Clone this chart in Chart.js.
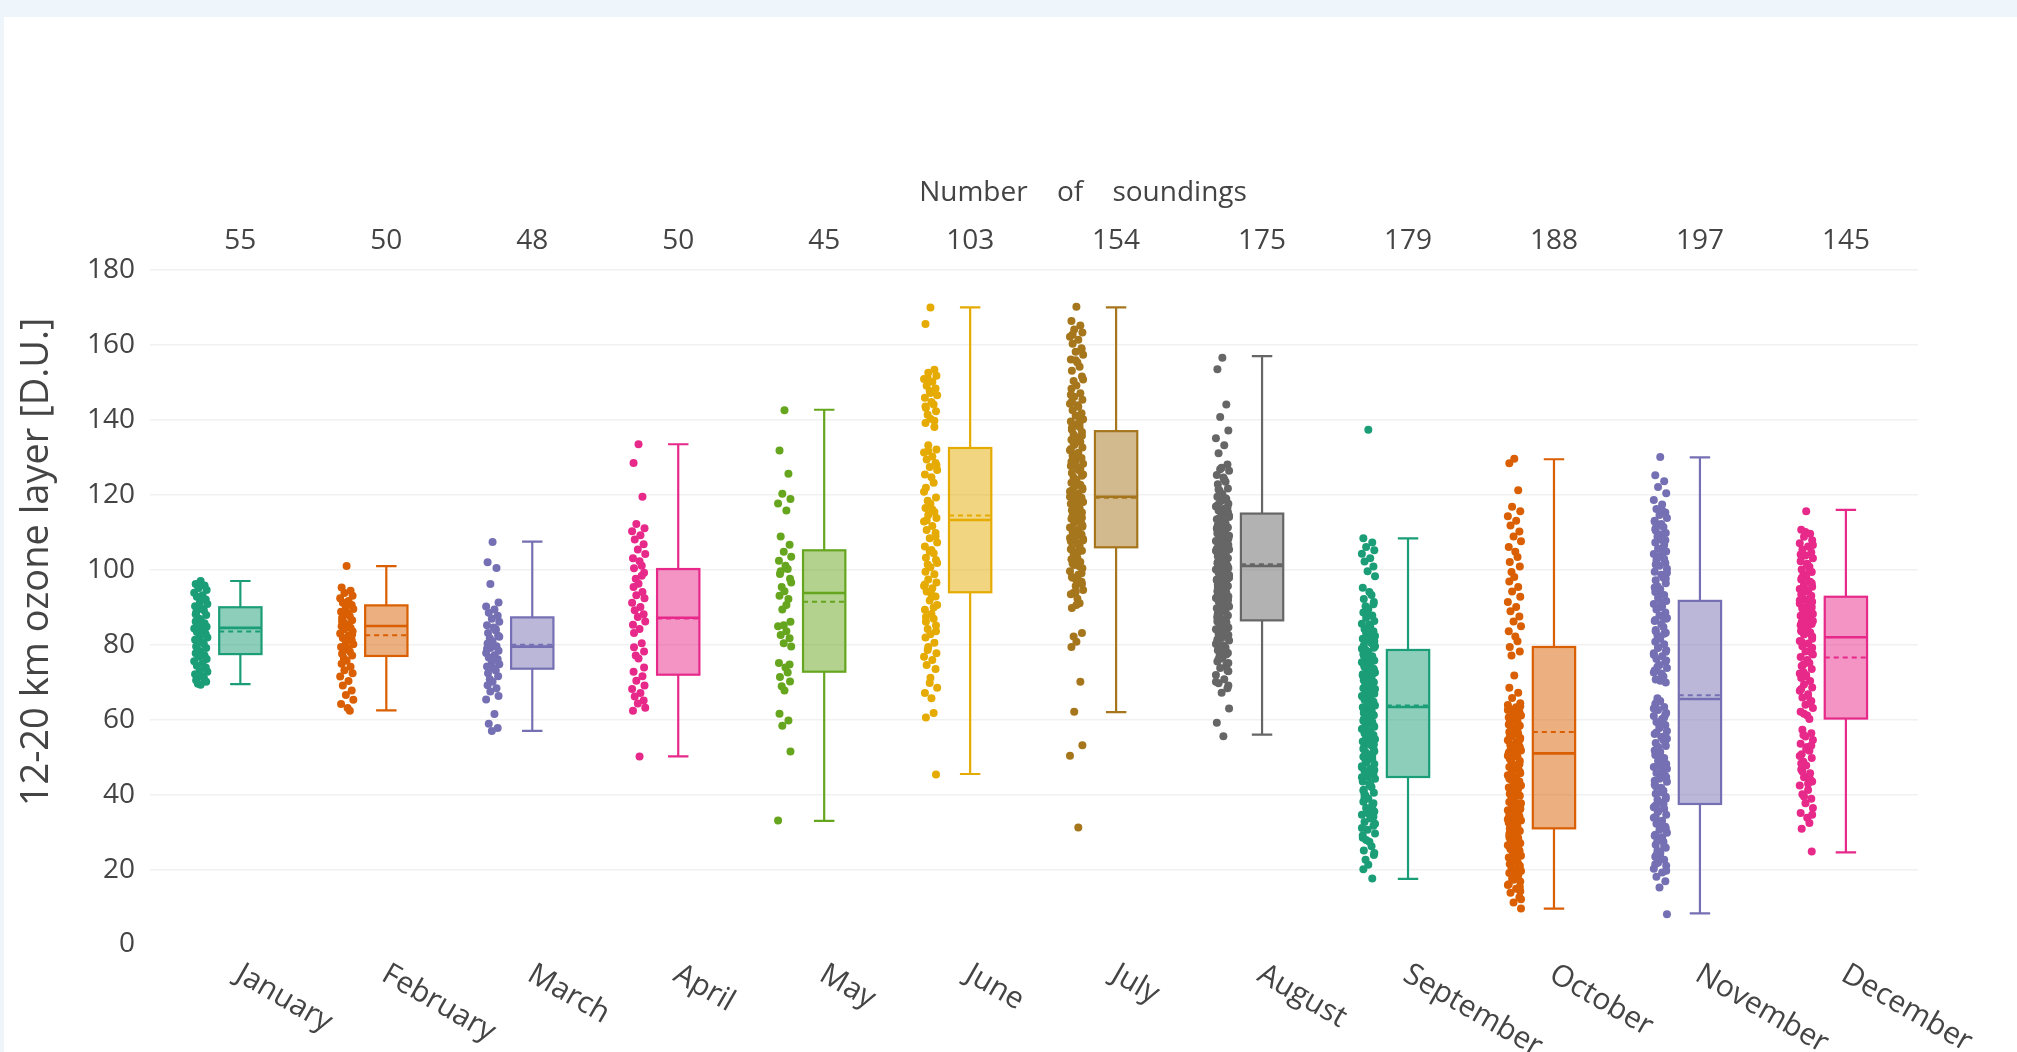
<!DOCTYPE html>
<html>
<head>
<meta charset="utf-8">
<title>12-20 km ozone layer by month</title>
<script src="https://cdn.jsdelivr.net/npm/chart.js@4.4.1/dist/chart.umd.min.js"></script>
<style>
    html, body { margin: 0; padding: 0; background: #eef5fb; overflow: hidden; }
    #card { position: absolute; left: 4px; top: 17px; right: 0; bottom: 0; background: #ffffff; }
    #chartWrap { position: absolute; left: 0; top: 0; width: 2017px; height: 1052px; }
</style>
</head>
<body>
<div id="card"></div>
<div id="chartWrap"><canvas id="ozoneChart" width="2017" height="1052"></canvas></div>
<script>
// Categories and counts
const months = ["January", "February", "March", "April", "May", "June",
    "July", "August", "September", "October", "November", "December"];
const soundings = [55, 50, 48, 50, 45, 103, 154, 175, 179, 188, 197, 145];
const colors = ["#1b9e77", "#d95f02", "#7570b3", "#e7298a", "#66a61e", "#e6ab02",
    "#a6761d", "#666666", "#1b9e77", "#d95f02", "#7570b3", "#e7298a"];
const yTicks = [0, 20, 40, 60, 80, 100, 120, 140, 160, 180];

// Box statistics
const boxMin    = [69.5, 62.5, 57.0, 50.2, 33.0, 45.5, 62.0, 56.0, 17.5,   9.6,   8.3,  24.6];
const boxQ1     = [77.5, 77.0, 73.6, 72.0, 72.8, 94.0, 106.0, 86.5, 44.7,  31.0,  37.5,  60.3];
const boxMedian = [84.5, 85.0, 79.5, 87.2, 93.8, 113.3, 119.5, 101.0, 63.4, 51.0,  65.5,  82.0];
const boxMean   = [83.5, 82.5, 80.0, 87.0, 91.5, 114.5, 119.2, 101.5, 63.8, 56.7,  66.5,  76.6];
const boxQ3     = [90.0, 90.5, 87.3, 100.2, 105.2, 132.5, 137.0, 115.0, 78.6, 79.4, 91.7, 92.8];
const boxMax    = [97.0, 101.0, 107.5, 133.5, 142.7, 170.0, 170.0, 157.0, 108.4, 129.5, 130.0, 116.0];

// Individual soundings (estimated from the strips)
const janValues = [97, 96.2, 95.8, 95.1, 94.6, 93.9, 93.2, 92.8, 92.1, 91.4, 90.9, 90.3, 89.6, 89.2,
    88.5, 87.9, 87.1, 86.8, 86.2, 85.7, 85.1, 84.8, 84.3, 83.9, 83.4, 82.8, 82.2, 81.9, 81.3, 80.6,
    80.2, 79.5, 79.1, 78.6, 78.2, 77.7, 77.1, 76.8, 76.2, 75.6, 75.1, 74.4, 73.9, 73.2, 72.8, 72.1,
    71.6, 71.2, 70.5, 70.1, 69.6, 69.3, 88.1, 84.1, 80.9];
const febValues = [101, 95.3, 94.4, 93.8, 93.1, 92.4, 91.7, 91.2, 90.6, 90.1, 89.5, 88.8, 88.3, 87.6,
    87.1, 86.5, 85.9, 85.4, 84.9, 84.5, 84.1, 83.6, 83.0, 82.4, 81.8, 81.2, 80.7, 80.1, 79.4, 78.9,
    78.2, 77.6, 77.1, 76.4, 75.7, 74.9, 74.1, 73.2, 72.4, 71.5, 70.3, 69.1, 67.8, 66.6, 65.3, 64.2,
    63.1, 62.4, 86.2, 82.7];
const marValues = [107.4, 102, 100.5, 96.2, 91.3, 90.2, 89.4, 88.5, 87.7, 86.9, 86.1, 85.2, 84.6, 83.8,
    83.1, 82.4, 81.7, 80.9, 80.3, 79.6, 79.1, 78.4, 77.8, 77.2, 76.6, 76.1, 75.5, 74.8, 74.2, 73.7,
    73.1, 72.4, 71.6, 70.8, 70.1, 69.2, 68.4, 67.5, 66.3, 65.4, 61.5, 58.9, 57.8, 57, 82.1, 78.9,
    75.9, 84.2];
const aprValues = [133.5, 128.5, 119.5, 112.2, 111.1, 110.3, 109.2, 108.1, 106.8, 105.4, 104.2, 103.1,
    102.3, 101.1, 100.4, 99.2, 97.6, 96.3, 95.4, 94.1, 93.2, 92.4, 91.2, 90.1, 89.2, 88.1, 87.4, 86.2,
    85.3, 84.2, 80.4, 79.3, 78.2, 77.1, 76.3, 72.8, 71.6, 70.4, 69.1, 68.2, 67.1, 66.2, 65.1, 64.3,
    63.2, 62.4, 50.2, 98.4, 83.1, 73.9];
const mayValues = [142.6, 131.8, 125.6, 120.3, 118.9, 117.7, 115.8, 108.9, 106.7, 104.8, 103.5, 102.4,
    101.1, 100.2, 98.9, 97.6, 95.4, 94.3, 93.1, 92.2, 89.4, 86.1, 84.9, 83.6, 82.6, 81.7, 80.4, 79.5,
    75.1, 73.9, 72.6, 71.4, 70.2, 68.9, 67.8, 61.6, 59.8, 58.4, 51.5, 33.1, 90.6, 99.6, 74.7, 85.2, 96.6];
const junValues = [170, 165.6, 153.4, 152.6, 151.8, 150.9, 150.2, 149.1, 148.4, 147.7, 146.6, 145.9,
    144.8, 144.1, 143.2, 142.3, 141.4, 140.3, 139.2, 138.1, 133.2, 132.1, 131.3, 130.2, 129.4, 128.5,
    127.4, 126.6, 125.4, 124.7, 123.2, 121.9, 119.3, 118.4, 117.6, 116.5, 115.4, 114.6, 113.8, 112.9,
    111.7, 110.6, 109.8, 108.4, 107.3, 106.2, 105.3, 104.4, 103.2, 102.6, 101.4, 100.7, 99.5, 98.8,
    97.4, 96.6, 95.7, 95.1, 94.2, 92.9, 91.8, 90.6, 89.3, 88.2, 86.9, 86.1, 85.1, 84.2, 82.8, 81.9,
    80.5, 79.4, 77.7, 76.8, 75.9, 74.6, 73.5, 69.8, 68.5, 67.1, 65.7, 61.8, 60.6, 45.4, 151.1, 147.2,
    143.6, 139.8, 131.7, 127.9, 120.8, 116.1, 113.2, 108.9, 104.9, 101.8, 96.1, 93.4, 89.9, 87.4,
    83.6, 78.6, 71.2];
const julValues = [170.2, 166.4, 165.2, 164.1, 163.3, 162.2, 161.4, 160.3, 159.1, 158.2, 157.4, 156.1,
    155.3, 154.2, 153.1, 151.6, 150.4, 149.2, 148.3, 147.1, 146.2, 145.4, 144.3, 143.5, 142.6, 141.8,
    141.1, 140.2, 139.6, 138.9, 138.1, 137.4, 136.8, 136.1, 135.4, 134.7, 134.1, 133.3, 132.6, 131.9,
    131.2, 130.4, 129.8, 129.1, 128.3, 127.7, 127.1, 126.4, 125.8, 125.1, 124.6, 123.9, 123.2, 122.7,
    122.1, 121.4, 120.9, 120.3, 119.8, 119.2, 118.7, 118.1, 117.6, 117.1, 116.4, 115.9, 115.3, 114.8,
    114.2, 113.6, 113.1, 112.5, 111.8, 111.3, 110.7, 110.1, 109.4, 108.9, 108.2, 107.6, 107.1, 106.4,
    105.8, 105.1, 104.3, 103.6, 102.8, 102.1, 101.3, 100.4, 99.6, 98.7, 97.9, 96.8, 95.7, 94.6, 93.5,
    92.3, 91.1, 89.8, 83.1, 82.2, 80.8, 79.4, 70.1, 62.1, 53.2, 50.4, 31.2, 162.8, 158.7, 155.9, 150.8,
    146.7, 143.9, 140.7, 137.9, 135.8, 133.8, 130.9, 128.8, 126.9, 124.3, 121.8, 119.5, 116.8, 114.5,
    112.2, 109.9, 107.9, 105.5, 103.1, 100.9, 98.1, 96.2, 93.9, 90.6, 121.1, 118.4, 115.1, 111.5,
    108.5, 104.8, 101.7, 99.1, 94.1, 125.4, 132.2, 127.3, 139.1, 144.9, 113.9, 110.4, 97.3];
const augValues = [156.6, 153.5, 144.1, 140.8, 137.2, 135.1, 133.2, 131.1, 128.1, 127.2, 126.4, 125.3,
    124.6, 123.5, 122.8, 121.7, 121.1, 120.2, 119.5, 118.9, 118.2, 117.6, 116.9, 116.3, 115.8, 115.1,
    114.6, 114.1, 113.5, 113.0, 112.4, 111.9, 111.3, 110.8, 110.3, 109.7, 109.2, 108.8, 108.3, 107.7,
    107.2, 106.8, 106.3, 105.8, 105.4, 104.9, 104.5, 104.0, 103.6, 103.1, 102.7, 102.2, 101.8, 101.4,
    100.9, 100.5, 100.1, 99.6, 99.2, 98.8, 98.3, 97.9, 97.4, 97.0, 96.6, 96.1, 95.7, 95.2, 94.8, 94.3,
    93.9, 93.4, 92.9, 92.5, 92.0, 91.6, 91.1, 90.6, 90.2, 89.7, 89.2, 88.7, 88.3, 87.8, 87.3, 86.8,
    86.2, 85.7, 85.2, 84.6, 84.1, 83.5, 82.9, 82.4, 81.8, 81.1, 80.5, 79.8, 79.2, 78.5, 77.8, 77.0,
    76.3, 75.5, 74.6, 73.8, 72.9, 71.9, 70.8, 69.7, 68.4, 67.2, 63.0, 59.2, 55.6, 119.1, 117.3, 115.4,
    113.8, 112.1, 110.6, 109.4, 108.1, 106.6, 105.1, 103.8, 102.5, 101.1, 99.9, 98.6, 97.2, 95.9, 94.6,
    93.2, 91.9, 90.4, 89.1, 87.6, 86.1, 84.4, 82.6, 80.2, 78.1, 76.1, 73.1, 118.5, 114.4, 111.1, 107.5,
    104.2, 100.7, 97.7, 94.1, 90.9, 87.1, 83.2, 79.5, 75.1, 70.1, 124.1, 121.4, 116.6, 112.7, 109.1,
    105.6, 102.0, 98.5, 95.4, 92.2, 88.9, 85.0, 81.4, 77.4, 126.8, 69.1];
const sepValues = [137.4, 108.4, 107.3, 106.1, 105.2, 104.3, 103.1, 102.2, 100.9, 99.6, 98.3, 95.2, 94.1,
    93.3, 92.2, 91.4, 90.3, 89.5, 88.6, 87.8, 87.1, 86.3, 85.6, 84.9, 84.2, 83.6, 82.9, 82.3, 81.6,
    81.1, 80.4, 79.8, 79.2, 78.6, 78.1, 77.5, 76.9, 76.4, 75.8, 75.3, 74.7, 74.2, 73.6, 73.1, 72.6,
    72.1, 71.5, 71.0, 70.5, 70.0, 69.4, 68.9, 68.4, 67.9, 67.4, 66.9, 66.3, 65.8, 65.3, 64.8, 64.3,
    63.8, 63.3, 62.8, 62.3, 61.8, 61.2, 60.7, 60.2, 59.7, 59.1, 58.6, 58.1, 57.5, 57.0, 56.4, 55.9,
    55.3, 54.8, 54.2, 53.6, 53.1, 52.5, 51.9, 51.3, 50.7, 50.1, 49.5, 48.9, 48.2, 47.6, 46.9, 46.3,
    45.6, 44.9, 44.2, 43.5, 42.8, 42.0, 41.3, 40.5, 39.7, 38.9, 38.1, 37.2, 36.4, 35.5, 34.6, 33.6,
    32.7, 31.7, 30.6, 29.6, 28.5, 27.4, 26.2, 25.1, 23.9, 22.6, 21.3, 20.1, 17.6, 83.1, 80.9, 78.9,
    76.6, 74.5, 72.4, 70.3, 68.2, 66.1, 64.1, 62.1, 60.1, 58.3, 56.2, 54.1, 52.2, 50.3, 48.5, 46.6,
    44.6, 42.4, 40.1, 37.7, 35.1, 32.2, 29.1, 85.3, 81.9, 77.1, 73.4, 69.7, 66.6, 63.1, 59.4, 55.6,
    51.6, 47.3, 43.1, 39.2, 34.1, 88.2, 79.6, 71.8, 65.6, 61.5, 57.8, 53.4, 49.2, 45.3, 41.1, 36.8,
    27.9, 24.4, 31.1, 67.6, 74.1, 90.8];
const octValues = [129.6, 128.4, 121.2, 116.8, 115.6, 114.3, 113.1, 111.8, 110.2, 108.9, 107.6, 106.1,
    104.8, 103.4, 102.1, 100.9, 99.4, 98.1, 96.9, 95.4, 94.2, 92.8, 91.4, 90.1, 88.9, 87.5, 86.2, 84.9,
    83.6, 82.2, 80.9, 79.4, 78.2, 77.1, 71.8, 68.5, 67.2, 65.8, 64.4, 63.9, 63.3, 62.8, 62.2, 61.7,
    61.1, 60.6, 60.0, 59.5, 58.9, 58.4, 57.8, 57.3, 56.7, 56.2, 55.6, 55.1, 54.5, 54.0, 53.4, 52.9,
    52.3, 51.8, 51.2, 50.7, 50.1, 49.6, 49.0, 48.5, 47.9, 47.4, 46.8, 46.3, 45.7, 45.2, 44.6, 44.1,
    43.5, 43.0, 42.4, 41.9, 41.3, 40.8, 40.2, 39.7, 39.1, 38.6, 38.0, 37.5, 36.9, 36.4, 35.8, 35.3,
    34.7, 34.2, 33.6, 33.1, 32.5, 32.0, 31.4, 30.9, 30.3, 29.8, 29.2, 28.7, 28.1, 27.6, 27.0, 26.5,
    25.9, 25.4, 24.8, 24.3, 23.7, 23.2, 22.6, 22.1, 21.5, 21.0, 20.4, 19.8, 19.1, 18.4, 17.6, 16.8,
    15.9, 14.9, 13.8, 12.6, 11.2, 9.6, 63.1, 60.9, 58.1, 55.4, 52.6, 49.8, 47.1, 44.3, 41.6, 38.8,
    36.1, 33.4, 30.6, 27.9, 25.1, 22.4, 19.6, 16.1, 61.9, 56.9, 51.5, 46.1, 40.4, 35.2, 29.5, 24.1,
    18.8, 14.2, 62.6, 57.6, 53.1, 48.1, 43.4, 37.7, 32.9, 26.8, 21.8, 59.2, 54.7, 45.6, 39.4, 34.5,
    28.4, 23.5, 63.6, 50.4, 42.1, 31.7, 20.7, 17.3, 12.1, 58.7, 47.6, 36.6, 26.1, 15.4, 44.9, 33.9];
const novValues = [130.1, 125.2, 123.6, 122.1, 120.4, 118.6, 117.4, 116.2, 115.3, 114.6, 113.8, 112.9,
    112.2, 111.4, 110.5, 109.8, 108.9, 108.1, 107.3, 106.6, 105.7, 104.9, 104.2, 103.4, 102.6, 101.8,
    101.1, 100.3, 99.5, 98.7, 97.9, 97.2, 96.4, 95.6, 94.8, 94.1, 93.3, 92.5, 91.7, 90.9, 90.2, 89.4,
    88.6, 87.8, 87.1, 86.3, 85.5, 84.7, 83.9, 83.2, 82.4, 81.6, 80.8, 80.1, 79.3, 78.5, 77.7, 76.9,
    76.2, 75.4, 74.6, 73.8, 73.1, 72.3, 71.5, 70.7, 69.9, 65.7, 65.0, 64.2, 63.4, 62.6, 61.8, 61.0,
    60.2, 59.4, 58.6, 57.8, 57.0, 56.2, 55.4, 54.6, 53.8, 53.0, 52.2, 51.4, 50.6, 49.8, 49.0, 48.2,
    47.4, 46.6, 45.8, 45.0, 44.2, 43.4, 42.6, 41.8, 41.0, 40.2, 39.4, 38.6, 37.8, 37.0, 36.2, 35.4,
    34.6, 33.8, 33.0, 32.2, 31.4, 30.6, 29.8, 29.0, 28.2, 27.4, 26.6, 25.8, 25.0, 24.2, 23.4, 22.6,
    21.8, 21.0, 20.2, 19.2, 18.1, 16.9, 15.2, 8.1, 113.1, 109.4, 105.2, 101.4, 97.6, 93.8, 90.1, 86.6,
    82.9, 79.1, 75.8, 72.6, 115.8, 111.6, 107.9, 103.7, 99.2, 95.3, 91.3, 87.4, 83.6, 78.1, 74.1, 70.4,
    110.9, 102.9, 94.5, 86.9, 77.3, 71.9, 64.6, 61.4, 58.2, 54.9, 51.8, 48.6, 45.3, 42.2, 38.9, 35.8,
    32.6, 29.3, 26.2, 22.9, 19.7, 63.0, 59.8, 56.6, 53.3, 50.1, 46.9, 43.7, 40.6, 37.4, 34.1, 30.9,
    27.8, 24.6, 21.4, 60.6, 52.7, 44.6, 36.6, 28.6, 23.9, 55.7, 47.8];
const decValues = [115.6, 110.7, 109.6, 108.8, 107.9, 107.1, 106.2, 105.4, 104.6, 103.8, 103.1, 102.3,
    101.6, 100.8, 100.1, 99.4, 98.7, 98.1, 97.4, 96.8, 96.1, 95.5, 94.9, 94.3, 93.7, 93.1, 110.1,
    106.6, 104.1, 101.2, 99.8, 97.8, 96.4, 95.2, 94.6, 93.4, 92.6, 92.1, 91.5, 91.0, 90.4, 89.9, 89.3,
    88.8, 88.2, 87.7, 87.1, 86.6, 86.0, 85.5, 84.9, 84.4, 83.8, 83.3, 82.7, 82.2, 91.8, 90.7, 89.6,
    88.5, 87.4, 86.3, 85.2, 84.1, 83.1, 92.3, 90.1, 87.9, 85.8, 83.6, 89.1, 86.8, 81.6, 81.0, 80.3,
    79.6, 78.9, 78.2, 77.4, 76.7, 75.9, 75.1, 74.3, 73.5, 72.7, 71.9, 71.1, 70.3, 69.4, 68.6, 67.7,
    66.8, 65.9, 65.0, 64.0, 63.1, 62.1, 61.1, 60.2, 80.7, 77.8, 74.7, 71.5, 68.2, 64.6, 61.6, 79.2,
    72.3, 66.3, 57.3, 56.4, 55.5, 54.6, 53.6, 52.7, 51.7, 50.8, 49.8, 48.8, 47.8, 46.7, 45.7, 44.6,
    43.5, 42.4, 41.2, 40.1, 38.9, 37.7, 36.4, 35.1, 33.8, 32.4, 30.9, 24.8, 55.9, 52.2, 48.3, 44.1,
    39.5, 34.6, 50.3, 42.9, 46.2, 53.1];

const monthValues = [janValues, febValues, marValues, aprValues, mayValues, junValues,
    julValues, augValues, sepValues, octValues, novValues, decValues];

// Layout of each category (x units)
const boxShift = 0.09;      // box sits right of the category centre
const pointShift = -0.182;  // strip of points sits left
const boxHalf = 0.145;
const capHalf = 0.07;
const jitterPattern = [0.0, -0.034, 0.027, -0.015, 0.041, -0.044, 0.013, -0.026, 0.035,
    -0.005, 0.046, -0.038, 0.007, 0.022, -0.031, 0.038, -0.019];

function withAlpha(hex, a) {
    const r = parseInt(hex.slice(1, 3), 16);
    const g = parseInt(hex.slice(3, 5), 16);
    const b = parseInt(hex.slice(5, 7), 16);
    return `rgba(${r}, ${g}, ${b}, ${a})`;
}

Chart.defaults.font.family = "'Open Sans', sans-serif";
Chart.defaults.color = "#444";

// Boxes, whiskers and all the text around the plot
const boxPlugin = {
    id: "boxPlot",
    beforeDatasetsDraw(chart) {
        const { ctx, scales: { x, y } } = chart;
        ctx.save();
        months.forEach((m, i) => {
            const c = i + boxShift;
            const cx = x.getPixelForValue(c);
            const left = x.getPixelForValue(c - boxHalf);
            const right = x.getPixelForValue(c + boxHalf);
            const capL = x.getPixelForValue(c - capHalf);
            const capR = x.getPixelForValue(c + capHalf);
            const yMin = y.getPixelForValue(boxMin[i]);
            const yQ1 = y.getPixelForValue(boxQ1[i]);
            const yMed = y.getPixelForValue(boxMedian[i]);
            const yMean = y.getPixelForValue(boxMean[i]);
            const yQ3 = y.getPixelForValue(boxQ3[i]);
            const yMax = y.getPixelForValue(boxMax[i]);

            ctx.strokeStyle = colors[i];
            ctx.fillStyle = withAlpha(colors[i], 0.5);
            ctx.lineWidth = 2.2;

            // whiskers
            ctx.beginPath();
            ctx.moveTo(cx, yQ3); ctx.lineTo(cx, yMax);
            ctx.moveTo(cx, yQ1); ctx.lineTo(cx, yMin);
            ctx.moveTo(capL, yMax); ctx.lineTo(capR, yMax);
            ctx.moveTo(capL, yMin); ctx.lineTo(capR, yMin);
            ctx.stroke();

            // box
            ctx.fillRect(left, yQ3, right - left, yQ1 - yQ3);
            ctx.strokeRect(left, yQ3, right - left, yQ1 - yQ3);

            // median
            ctx.lineWidth = 2.6;
            ctx.beginPath();
            ctx.moveTo(left, yMed); ctx.lineTo(right, yMed);
            ctx.stroke();

            // mean (dashed)
            ctx.lineWidth = 2;
            ctx.setLineDash([5, 4]);
            ctx.beginPath();
            ctx.moveTo(left, yMean); ctx.lineTo(right, yMean);
            ctx.stroke();
            ctx.setLineDash([]);
        });
        ctx.restore();
    },
    afterDraw(chart) {
        const { ctx, scales: { x } } = chart;
        ctx.save();
        ctx.fillStyle = "#444";
        ctx.font = "28px 'Open Sans'";

        // number of soundings above each box
        ctx.textAlign = "center";
        ctx.textBaseline = "middle";
        soundings.forEach((n, i) => {
            ctx.fillText(String(n), x.getPixelForValue(i + boxShift), 241);
        });
        ctx.wordSpacing = "22px";
        ctx.fillText("Number of soundings", 1083, 193);
        ctx.wordSpacing = "0px";

        // rotated month labels
        ctx.font = "30px 'Open Sans'";
        months.forEach((m, i) => {
            ctx.save();
            ctx.translate(x.getPixelForValue(i) + 11, 972);
            ctx.rotate(Math.PI / 6);
            ctx.textAlign = "left";
            ctx.textBaseline = "middle";
            ctx.fillText(m, 0, 0);
            ctx.restore();
        });

        // y axis title
        ctx.translate(37, 562);
        ctx.rotate(-Math.PI / 2);
        ctx.font = "38px 'Open Sans'";
        ctx.textAlign = "center";
        ctx.textBaseline = "middle";
        ctx.fillText("12-20 km ozone layer [D.U.]", 0, 0);
        ctx.restore();
    }
};

const datasets = monthValues.map((vals, i) => ({
    label: months[i],
    data: vals.map((v, k) => ({ x: i + pointShift + jitterPattern[k % jitterPattern.length], y: v })),
    backgroundColor: colors[i],
    borderWidth: 0,
    pointRadius: 4,
    pointHoverRadius: 4,
}));

const ozoneChart = new Chart(document.getElementById("ozoneChart"), {
    type: "scatter",
    data: { datasets: datasets },
    plugins: [boxPlugin],
    options: {
        responsive: false,
        animation: false,
        layout: { padding: { top: 270, right: 99, bottom: 107.5, left: 0 } },
        scales: {
            x: {
                type: "linear",
                min: -0.529,
                max: 11.584,
                display: false,
            },
            y: {
                min: 0,
                max: 180,
                afterBuildTicks: (scale) => {
                    scale.ticks = yTicks.map((v) => ({ value: v }));
                },
                afterFit: (scale) => {
                    scale.width = 150;
                },
                border: { display: false },
                grid: {
                    drawTicks: false,
                    lineWidth: 1.5,
                    color: (c) => (c.tick && c.tick.value === 0 ? "rgba(0,0,0,0)" : "#f1f1f1"),
                },
                ticks: {
                    padding: 15,
                    color: "#444",
                    font: { size: 28 },
                },
            },
        },
        plugins: {
            legend: { display: false },
            tooltip: { enabled: false },
        },
    },
});
</script>
</body>
</html>
